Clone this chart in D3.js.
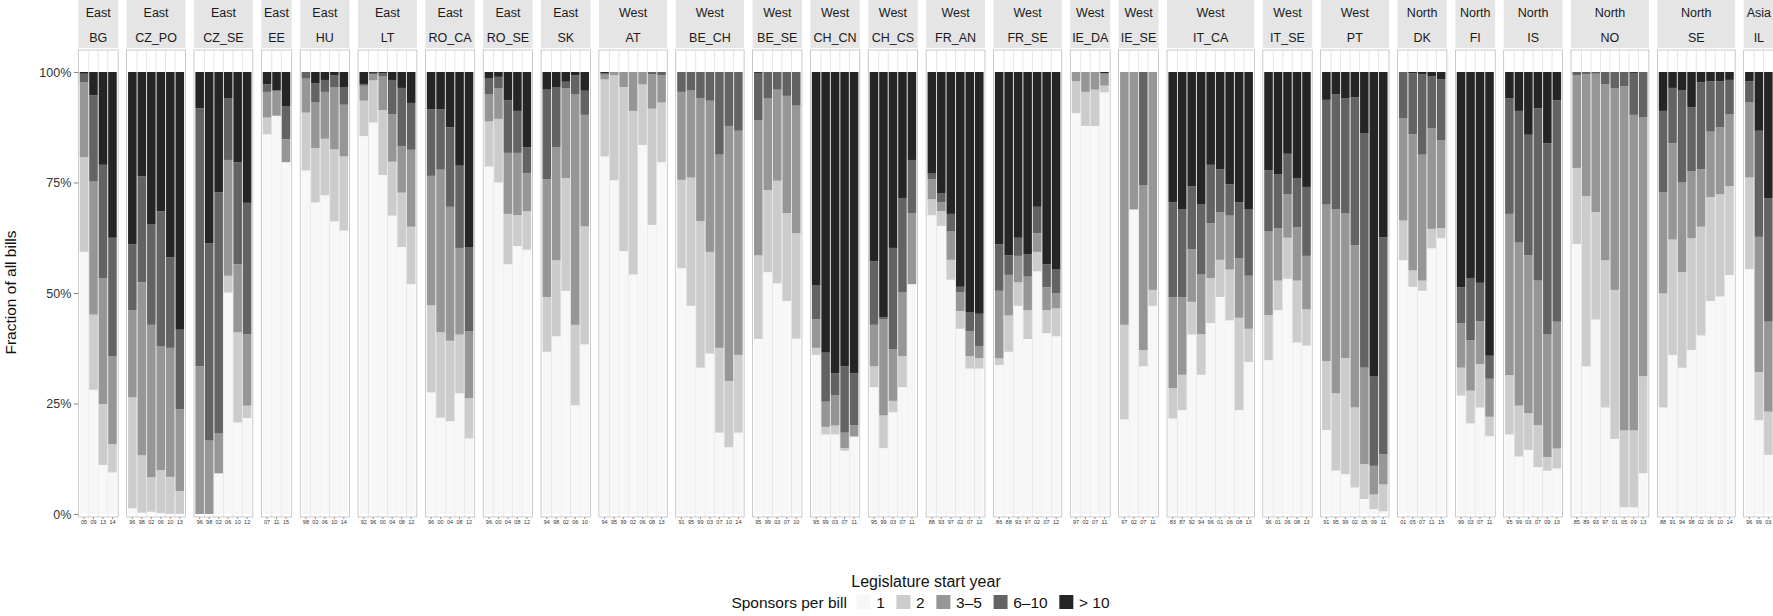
<!DOCTYPE html>
<html><head><meta charset="utf-8">
<script src="https://cdn.jsdelivr.net/npm/d3@7"></script>
<style>
body{margin:0;background:#fff;overflow:hidden}
svg{display:block;font-family:"Liberation Sans",Arial,Helvetica,sans-serif}
</style></head>
<body><svg id="chart" width="1773" height="616"></svg>
<script>
// ---------- DATA ----------
const regions  = ["East","East","East","East","East","East","East","East","East",
  "West","West","West","West","West","West","West","West","West","West","West","West",
  "North","North","North","North","North","Asia"];
const chambers = ["BG","CZ_PO","CZ_SE","EE","HU","LT","RO_CA","RO_SE","SK",
  "AT","BE_CH","BE_SE","CH_CN","CH_CS","FR_AN","FR_SE","IE_DA","IE_SE","IT_CA","IT_SE","PT",
  "DK","FI","IS","NO","SE","IL"];
const years = [
  ["05","09","13","14"],["96","98","02","06","10","13"],["96","98","02","06","10","12"],
  ["07","11","15"],["98","02","06","10","14"],["92","96","00","04","08","12"],
  ["96","00","04","08","12"],["96","00","04","08","12"],["94","98","02","06","10"],
  ["94","95","99","02","06","08","13"],["91","95","99","03","07","10","14"],
  ["95","99","03","07","10"],["95","99","03","07","11"],["95","99","03","07","11"],
  ["88","93","97","02","07","12"],["86","88","93","97","02","07","12"],
  ["97","02","07","11"],["97","02","07","11"],
  ["83","87","92","94","96","01","06","08","13"],["96","01","06","08","13"],
  ["91","95","99","02","05","09","11"],
  ["01","05","07","11","15"],["99","03","07","11"],["95","99","03","07","09","13"],
  ["85","89","93","97","01","05","09","13"],["88","91","94","98","02","06","10","14"],
  ["96","99","03"]
];
const categories = ["1","2","3–5","6–10","> 10"];
// share of bills (%) per panel, per legislature
const share1 = [
  [59.3,28.1,11.1,9.4],[1.3,0.3,0.5,0.2,0,0],[0,0,9.2,50.1,20.7,21.7],[85.9,90.1,79.6],
  [77.7,70.5,72.1,66.2,64.1],[85.5,88.6,76.7,67.5,60.4,52.0],[27.5,21.8,21.0,27.3,17.1],
  [78.6,75.0,56.5,60.6,59.8],[36.7,40.2,50.5,24.6,38.0],
  [80.9,75.5,59.5,54.2,83.5,65.4,79.6],[55.6,47.1,33.1,36.3,18.4,15.1,18.4],
  [39.6,54.7,52.2,48.2,39.6],[36.0,18.0,18.0,14.3,17.4],[28.7,14.9,23.0,28.7,52.0],
  [67.6,65.2,53.0,41.9,32.9,32.9],[33.7,36.7,47.1,39.6,54.9,40.9,40.2],
  [90.7,87.8,87.8,95.4],[21.4,68.9,33.4,47.1],
  [21.6,23.5,40.6,31.5,43.2,49.1,43.8,23.5,34.4],[34.8,46.1,53.2,38.8,38.1],
  [19.0,9.8,9.0,6.0,3.4,1.1,0.6],
  [57.4,51.4,50.5,60.1,62.4],[26.8,20.5,24.1,17.6],[18.0,13.0,14.5,10.6,9.8,10.3],
  [61.1,33.4,44.0,24.1,17.0,1.5,1.5,9.2],[24.1,36.0,33.1,37.1,40.4,48.2,49.3,54.5],
  [55.5,21.2,13.4]
];
const share2 = [
  [21.4,17.0,13.8,6.4],[25.1,13.0,7.8,9.7,8.4,5.2],[0,0,0,3.8,20.4,2.8],[3.8,0,0],
  [13.1,12.3,12.8,16.3,16.8],[8.0,9.5,14.7,12.2,12.3,13.0],[19.7,19.3,18.2,13.3,9.1],
  [10.2,14.4,11.4,7.0,8.7],[12.4,17.2,25.5,18.2,26.4],
  [17.4,23.8,37.1,37.0,13.7,26.3,13.5],[20.0,29.0,33.2,23.0,19.2,15.0,17.6],
  [18.9,18.6,23.2,19.9,23.8],[1.6,1.7,2.0,0.6,0.2],[4.7,7.4,2.6,7.0,0],
  [3.6,3.3,4.5,4.0,2.8,2.4],[1.5,8.2,5.3,6.5,4.4,5.2,6.3],
  [7.2,7.7,8.2,1.5],[21.4,0,3.7,3.6],
  [6.9,8.0,7.4,9.2,10.2,8.4,11.5,20.9,7.5],[10.2,6.7,9.3,14.0,8.2],
  [15.6,17.5,26.3,18.1,7.9,3.3,6.1],
  [9.0,3.7,2.3,4.4,2.3],[6.3,7.4,9.8,4.4],[13.4,11.5,8.3,9.5,3.1,4.5],
  [17.2,38.5,24.3,33.3,33.7,17.4,17.4,22.0],[25.8,26.1,21.6,25.3,24.6,23.5,23.2,20.3],
  [20.8,10.9,9.8]
];
const share3to5 = [
  [17.0,30.1,28.4,19.9],[19.7,39.3,34.5,28.0,29.2,18.5],[33.4,16.6,9.0,26.2,15.4,16.2],[5.8,5.7,5.2],
  [7.7,10.4,10.6,14.1,11.7],[3.4,1.4,7.7,10.7,10.5,17.4],[29.3,36.8,30.3,19.6,15.1],
  [6.1,6.9,13.8,14.1,8.6],[26.6,25.6,20.3,52.1,25.0],
  [1.1,0.7,3.4,8.8,2.8,7.8,6.2],[19.9,19.7,27.8,34.2,43.7,57.7,50.7],
  [30.6,20.7,20.6,26.5,28.8],[6.5,5.7,6.8,3.5,2.5],[9.4,21.7,11.7,14.4,16.1],
  [4.5,2.0,6.4,4.2,5.6,2.7],[15.3,9.2,6.0,7.6,4.2,5.2,3.4],
  [2.1,4.5,4.0,2.8],[57.2,31.1,37.3,49.3],
  [20.5,17.5,11.9,13.6,12.4,10.8,12.2,13.5,12.0],[18.9,11.9,9.8,12.1,12.1],
  [35.4,41.6,32.8,36.7,21.8,6.5,6.8],
  [23.1,30.8,28.5,22.7,19.8],[10.1,11.4,9.7,8.6],[36.5,36.9,35.7,32.7,27.7,28.7],
  [21.0,27.6,31.3,39.8,45.6,77.9,71.4,58.5],[22.9,21.8,20.3,15.1,13.0,14.8,15.1,16.3],
  [17.1,30.6,20.4]
];
const share6to10 = [
  [1.9,19.5,25.7,26.8],[14.9,24.0,22.8,30.6,20.5,18.0],[58.4,44.6,54.6,14.0,23.1,29.7],[1.7,0,7.5],
  [1.5,4.2,2.7,2.7,4.0],[0.4,0.3,0.6,7.8,13.2,10.6],[15.1,13.7,18.0,18.6,19.1],
  [3.6,2.6,11.9,9.5,5.9],[20.3,13.6,1.5,4.4,5.4],
  [0.3,0,0,0,0,0.5,0.7],[4.5,4.2,5.9,6.5,18.7,12.2,13.3],
  [10.7,6.0,4.0,5.4,7.6],[7.7,11.1,5.0,15.0,11.7],[14.4,0.5,22.9,21.4,12.0],
  [1.3,2.0,4.0,1.3,4.4,7.3],[10.5,4.4,4.1,5.1,6.0,5.2,5.4],
  [0,0,0,0],[0,0,25.6,0],
  [21.5,20.0,14.2,15.7,13.2,9.7,7.1,12.6,15.1],[13.9,12.2,9.2,11.0,15.6],
  [23.7,26.1,26.0,33.5,53.1,20.3,49.1],
  [10.5,13.8,18.2,11.9,13.8],[8.1,14.1,8.7,5.2],[26.1,29.8,27.3,39.0,43.3,50.1],
  [0.7,0.5,0.4,2.8,3.7,3.2,9.5,10.3],[18.4,12.5,20.8,14.5,19.7,11.4,10.5,7.9],
  [4.7,24.0,28.0]
];
const shareOver10 = [
  [0.4,5.3,21.0,37.5],[39.0,23.7,34.4,31.5,41.9,58.3],[8.2,38.8,27.2,5.9,20.4,29.6],[2.8,4.2,7.7],
  [0,2.6,1.8,0.7,3.4],[2.7,0.2,0.3,1.8,3.6,7.0],[8.4,8.4,12.5,21.2,39.6],
  [1.5,1.1,6.4,8.8,17.0],[4.0,3.4,2.2,0.7,4.2],
  [0.3,0,0,0,0,0,0],[0,0,0,0,0,0,0],
  [0.2,0,0,0,0],[48.2,63.5,68.2,66.6,68.2],[42.8,55.5,39.8,28.5,19.9],
  [23.0,27.5,32.1,48.6,54.3,54.7],[39.0,41.5,37.5,41.2,30.5,43.5,44.7],
  [0,0,0,0.3],[0,0,0,0],
  [29.5,31.0,25.9,30.0,21.0,22.0,25.4,29.5,31.0],[22.2,23.1,18.5,24.1,26.0],
  [6.3,5.0,5.9,5.7,13.8,68.8,37.4],
  [0,0.3,0.5,0.9,1.7],[48.7,46.6,47.7,64.2],[6.0,8.8,14.2,8.2,16.1,6.4],
  [0,0,0,0,0,0,0.2,0],[8.8,3.6,4.2,8.0,2.3,2.1,2.1,1.8],
  [2.1,13.3,28.6]
];
const yTicks = [0, 0.25, 0.5, 0.75, 1];
const colors = ["#f7f7f7","#cccccc","#969696","#636363","#252525"];

// ---------- LAYOUT ----------
const plotLeft = 78.3, unit = 9.49, gap = 8.5;
const panelTop = 50, panelBottom = 517;
const stripTop = 0, stripBottom = 48;
const svg = d3.select("#chart");

const y = d3.scaleLinear().domain([0,1]).range([514, 72]);
const color = d3.scaleOrdinal().domain(categories).range(colors);
const seriesArrays = [share1, share2, share3to5, share6to10, shareOver10];

let xCursor = plotLeft;
chambers.forEach((ch, p) => {
  const yrs = years[p];
  const w = (yrs.length + 0.2) * unit;
  const x = d3.scaleBand().domain(yrs).range([0, w]).paddingInner(0.1).paddingOuter(0.15);
  const g = svg.append("g").attr("transform", `translate(${xCursor},0)`);

  // strip
  g.append("rect").attr("x",0).attr("y",stripTop).attr("width",w).attr("height",stripBottom-stripTop)
    .attr("fill","#e5e5e5");
  g.append("text").attr("x",w/2).attr("y",17.3).attr("text-anchor","middle")
    .attr("font-size",12.5).attr("fill","#1a1a1a").text(regions[p]);
  g.append("text").attr("x",w/2).attr("y",42.4).attr("text-anchor","middle")
    .attr("font-size",12.5).attr("fill","#1a1a1a").text(ch);

  // panel
  g.append("rect").attr("x",0).attr("y",panelTop).attr("width",w).attr("height",panelBottom-panelTop)
    .attr("fill","#fff");
  yrs.slice(1).forEach(yr => {
    const gx = x(yr) - x.step()*x.paddingInner()/2;
    g.append("line").attr("x1",gx).attr("x2",gx).attr("y1",panelTop).attr("y2",panelBottom)
      .attr("stroke","#dedede").attr("stroke-width",0.8);
  });

  // stacked bars
  const rows = yrs.map((yr,i) => {
    const r = {year: yr};
    categories.forEach((c,k) => r[c] = seriesArrays[k][p][i]);
    return r;
  });
  const stacked = d3.stack().keys(categories).offset(d3.stackOffsetExpand)(rows);
  g.selectAll("g.layer").data(stacked).join("g").attr("class","layer")
    .attr("fill", d => color(d.key))
    .selectAll("rect").data(d => d).join("rect")
      .attr("x", d => x(d.data.year))
      .attr("width", x.bandwidth())
      .attr("y", d => y(d[1]))
      .attr("height", d => Math.max(0, y(d[0]) - y(d[1])));

  g.append("rect").attr("x",0).attr("y",panelTop).attr("width",w).attr("height",panelBottom-panelTop)
    .attr("fill","none").attr("stroke","#b3b3b3").attr("stroke-width",0.7);

  // x axis
  const ax = g.append("g").attr("transform",`translate(0,${panelBottom})`)
    .call(d3.axisBottom(x).tickSize(2).tickPadding(1));
  ax.select(".domain").remove();
  ax.selectAll("line").attr("stroke","#555").attr("stroke-width",0.6);
  ax.selectAll("text").attr("font-size",5.5).attr("fill","#333").attr("font-family","Liberation Sans, Arial");

  if (p === 0) {
    const ay = svg.append("g").attr("transform",`translate(${xCursor},0)`)
      .call(d3.axisLeft(y).tickValues(yTicks).tickFormat(d3.format(".0%")).tickSize(4.5).tickPadding(2.5));
    ay.select(".domain").remove();
    ay.selectAll("line").attr("stroke","#555").attr("stroke-width",0.7);
    ay.selectAll("text").attr("font-size",12.5).attr("fill","#333").attr("font-family","Liberation Sans, Arial");
  }
  xCursor += w + gap;
});

// axis titles
svg.append("text").attr("transform",`translate(15.5,292.5) rotate(-90)`)
  .attr("text-anchor","middle").attr("font-size",15.5).attr("fill","#111").text("Fraction of all bills");
svg.append("text").attr("x",926).attr("y",586.5).attr("text-anchor","middle")
  .attr("font-size",16).attr("fill","#111").text("Legislature start year");

// legend
const leg = svg.append("g");
const legFont = 15.5, keySize = 14, cell = 17.3;
const title = leg.append("text").attr("y",607.5).attr("font-size",legFont).attr("fill","#111").text("Sponsors per bill");
let lx = title.node().getComputedTextLength() + 8;
categories.forEach((c,i) => {
  leg.append("rect").attr("x",lx + (cell-keySize)/2).attr("y",602 - keySize/2)
    .attr("width",keySize).attr("height",keySize).attr("fill",color(c));
  lx += cell + 4;
  const t = leg.append("text").attr("x",lx).attr("y",607.5).attr("font-size",legFont).attr("fill","#111").text(c);
  lx += t.node().getComputedTextLength() + 10;
});
const legW = lx - 10;
leg.attr("transform",`translate(${920.5 - legW/2},0)`);
</script></body></html>
